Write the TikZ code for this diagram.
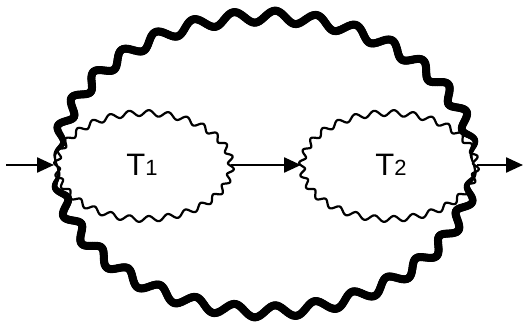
\documentclass[tikz,border=0pt]{standalone}
\usepackage{fontspec}
\setmainfont{Liberation Sans}
\usetikzlibrary{arrows.meta}
\begin{document}
\begin{tikzpicture}[x=1pt,y=-1pt,
  declare function={
    fw(\t)=1-exp(-(abs(sin(\t))/0.15)^2);
    bamp(\t)=1.5+4.5*fw(\t);
    bwid(\t)=1.9+6.1*fw(\t);
    bd(\t)=bamp(\t)*sin(32*\t);
    bnrm(\t)=sqrt((1.475*cos(\t))^2+(2.085*sin(\t))^2);
    bx(\t)=265+208.5*cos(\t)+bd(\t)*1.475*cos(\t)/bnrm(\t);
    by(\t)=164+147.5*sin(\t)+bd(\t)*2.085*sin(\t)/bnrm(\t);
    sd(\t)=2.9*sin(28*\t);
    snrm(\t)=sqrt((0.53*cos(\t))^2+(0.87*sin(\t))^2);
    sx(\t)=87*cos(\t)+sd(\t)*0.53*cos(\t)/snrm(\t);
    sy(\t)=53*sin(\t)+sd(\t)*0.87*sin(\t)/snrm(\t);
  },
  smallwave/.style={line width=2.2pt,line join=round},
  flow/.style={line width=2.4pt,-{Triangle[length=17pt,width=15pt]}},
  lbl/.style={inner sep=0pt,font=\fontsize{31}{31}\selectfont}]
\useasboundingbox (0,0) rectangle (525,323);
% thick wavy outer ring, tapering at its left and right ends
\foreach \i in {0,...,719} {
  \pgfmathsetmacro{\ta}{\i/2}
  \pgfmathsetmacro{\tb}{(\i+1)/2}
  \pgfmathsetmacro{\wd}{bwid((\i+0.5)/2)}
  \draw[line width=\wd pt,line cap=round] ({bx(\ta)},{by(\ta)}) -- ({bx(\tb)},{by(\tb)});
}
% thin wavy ellipses
\draw[smallwave,shift={(144,166)}] plot[domain=0:360,samples=721,variable=\t] ({sx(\t)},{sy(\t)}) -- cycle;
\draw[smallwave,shift={(389,166)}] plot[domain=0:360,samples=721,variable=\t] ({sx(\t)},{sy(\t)}) -- cycle;
\node[lbl] (t1) at (142,165) {T{\fontsize{22}{22}\selectfont 1}};
\node[lbl] (t2) at (391,165) {T{\fontsize{22}{22}\selectfont 2}};
\coordinate (in) at (6,165);
\coordinate (a1) at (54,165);
\coordinate (b1) at (231,165);
\coordinate (a2) at (301,165);
\coordinate (b2) at (477,165);
\coordinate (out) at (523,165);
\draw[flow] (in) -- (a1);
\draw[flow] (b1) -- (a2);
\draw[flow] (b2) -- (out);
\end{tikzpicture}
\end{document}
